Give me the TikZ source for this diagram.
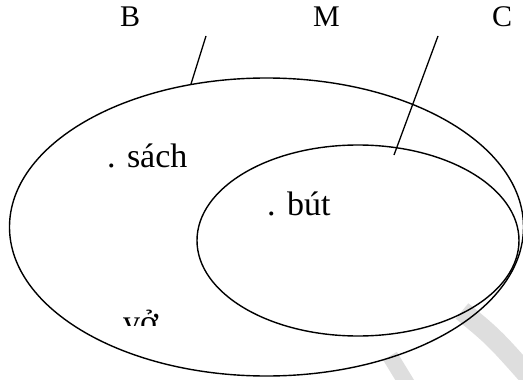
\documentclass[tikz,border=0pt]{standalone}
\usepackage{fontspec}
\setmainfont{Liberation Serif}
\usetikzlibrary{shapes.geometric}
\begin{document}
\begin{tikzpicture}[x=1pt,y=-1pt,
  setbox/.style={draw=black, line width=1.4pt, ellipse, inner sep=0pt, outer sep=0pt},
  lbl/.style={font=\fontsize{34}{40}\selectfont, inner sep=0pt, anchor=base west},
  smalllbl/.style={lbl, font=\fontsize{30}{36}\selectfont},
  wmark/.style={draw=black!13, line width=20pt},
  pointer/.style={draw=black, line width=1.3pt}]
\useasboundingbox (0,0) rectangle (523,380);
\begin{scope}
\clip (0,0) rectangle (523,380);
% faint watermark strokes
\draw[wmark] (462,311) .. controls (495,338) .. (545,395);
\draw[wmark, line width=16pt] (390,356) -- (412,392);
\end{scope}
% sets
\node[setbox, minimum width=514pt, minimum height=298pt] (outer) at (266.5,227) {};
\node[setbox, minimum width=322pt, minimum height=191pt] (inner) at (358,240.5) {};
% labels
\node[smalllbl] (labelB) at (120,27) {B};
\node[smalllbl] (labelM) at (313,27) {M};
\node[smalllbl] (labelC) at (492,27) {C};
\node[lbl] (sach) at (107,167) {. sách};
\node[lbl] (but) at (267,215) {. bút};
\begin{scope}
\clip (0,0) rectangle (523,325);
\node[lbl] (vo) at (123,333) {vở};
\end{scope}
% pointers
\coordinate (bTop) at (206,36);
\coordinate (cTop) at (438,36);
\coordinate (cEnd) at (394,155);
\draw[pointer] (bTop) -- (outer.118.6);
\draw[pointer] (cTop) -- (cEnd);
\end{tikzpicture}
\end{document}
